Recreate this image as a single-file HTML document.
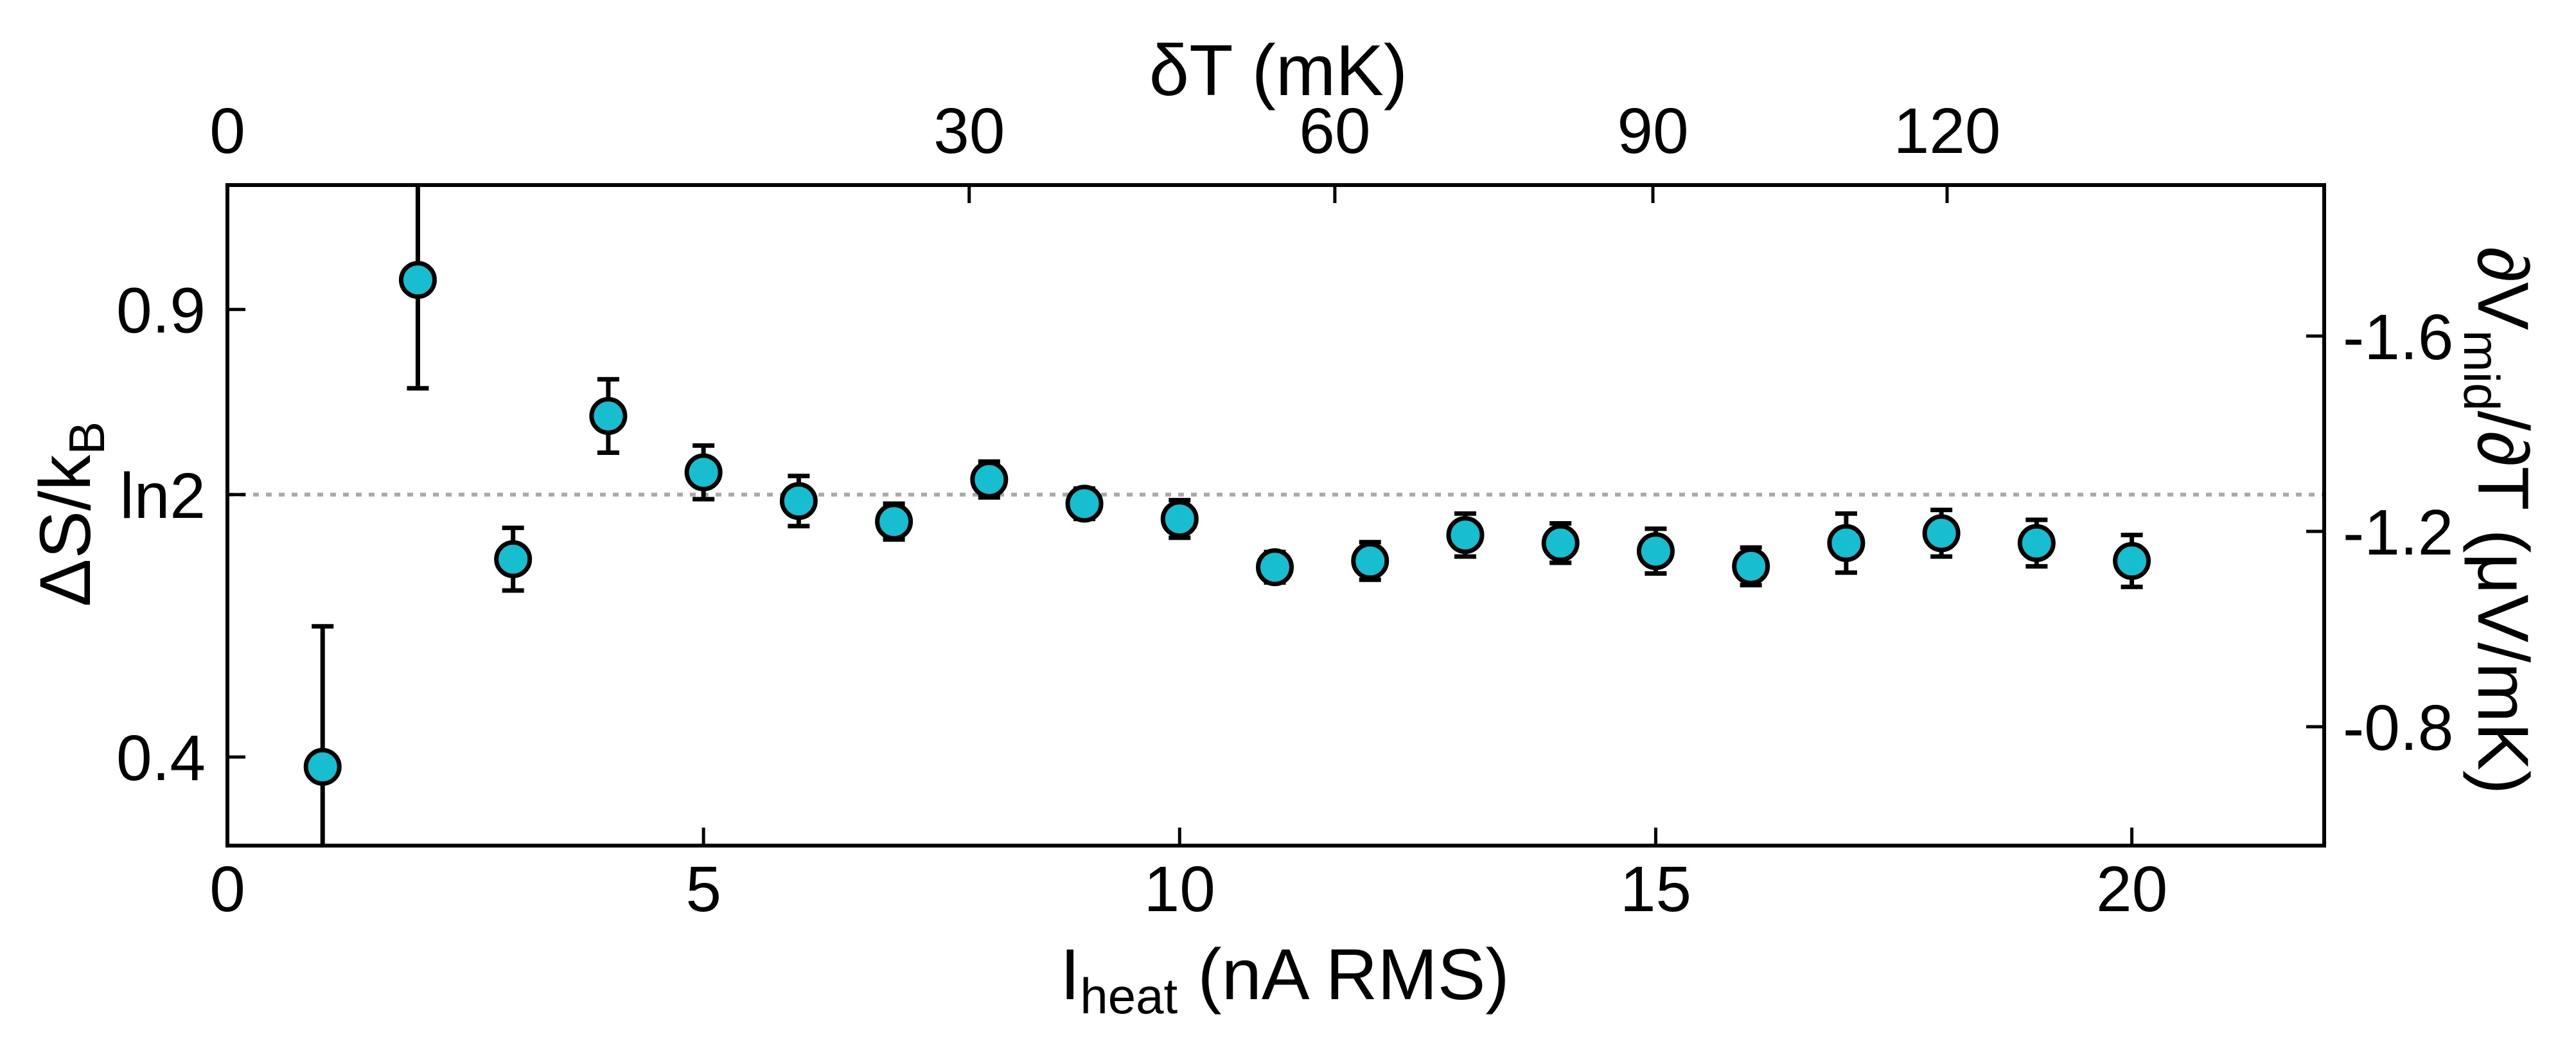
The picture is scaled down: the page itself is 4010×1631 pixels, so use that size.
<!DOCTYPE html>
<html><head><meta charset="utf-8"><style>
html,body{margin:0;padding:0;background:#fff}
svg{display:block;font-family:"Liberation Sans",Arial,sans-serif}
</style></head><body>
<svg id="chart" width="4010" height="1631" viewBox="0 0 4010 1631" xmlns="http://www.w3.org/2000/svg">
<g id="plot"></g>
</svg>
<script>
const currents = [1,2,3,4,5,6,7,8,9,10,11,12,13,14,15,16,17,18,19,20];
const entropy = [0.389,0.933,0.621,0.781,0.718,0.686,0.663,0.710,0.683,0.666,0.612,0.619,0.648,0.639,0.630,0.613,0.639,0.650,0.639,0.619];
const errors = [0.157,0.121,0.035,0.041,0.030,0.028,0.020,0.020,0.017,0.021,0.017,0.021,0.024,0.022,0.025,0.021,0.033,0.026,0.026,0.029];
const bottomTicks = [0,5,10,15,20];
const leftTicks = [0.9, Math.LN2, 0.4];
const leftTickLabels = ["0.9","ln2","0.4"];
const rightTicks = [-1.6,-1.2,-0.8];
const rightTickLabels = ["-1.6","-1.2","-0.8"];
const topTickLabels = ["0","30","60","90","120"];
const topTickCurrents = [0,7.79,11.63,14.97,18.06];

const L=354,R=3618,T=288,B=1316;
const xMin=0,xMax=22.02,yMin=0.301,yMax=1.039;
const x=v=>L+(v-xMin)/(xMax-xMin)*(R-L);
const y=v=>B-(v-yMin)/(yMax-yMin)*(B-T);
const yR=v=>827+(v+1.2)/0.4*(1131-827);
const NS="http://www.w3.org/2000/svg";
const g=document.getElementById('plot');
function mk(tag,attrs,parent){const e=document.createElementNS(NS,tag);for(const k in attrs)e.setAttribute(k,attrs[k]);(parent||g).appendChild(e);return e;}

const clip=mk('clipPath',{id:'clip'});mk('rect',{x:L,y:T,width:R-L,height:B-T},clip);

const ref=mk('line',{x1:L,x2:R,y1:y(Math.LN2),y2:y(Math.LN2),stroke:'#aaa','stroke-width':6,'stroke-dasharray':'9 11'});



const series=mk('g',{'clip-path':'url(#clip)'});


currents.forEach((c,i)=>{
  const cx=x(c),v=entropy[i],e=errors[i];
  const eb=mk('g',{stroke:'#000','stroke-width':7},series);
  
  
  mk('line',{x1:cx,x2:cx,y1:y(v-e),y2:y(v+e)},eb);
  mk('line',{x1:cx-17,x2:cx+17,y1:y(v-e),y2:y(v-e)},eb);
  mk('line',{x1:cx-17,x2:cx+17,y1:y(v+e),y2:y(v+e)},eb);
  const p=mk('circle',{cx:cx,cy:y(v),r:26,fill:'#17becf',stroke:'#000','stroke-width':7},series);
  
  
});

const frame=mk('rect',{x:L,y:T,width:R-L,height:B-T,fill:'none',stroke:'#000','stroke-width':6});



bottomTicks.forEach(t=>{
  const tk=mk('line',{x1:x(t),x2:x(t),y1:B,y2:B-28,stroke:'#000','stroke-width':5});
  
  
  const lb=mk('text',{x:x(t),y:1418,'font-size':100,'text-anchor':'middle'});lb.textContent=t;
  
  
});
topTickCurrents.forEach((c,i)=>{
  if(i>0){const tk=mk('line',{x1:x(c),x2:x(c),y1:T,y2:T+28,stroke:'#000','stroke-width':5});
  
  }
  const lb=mk('text',{x:x(c),y:238,'font-size':100,'text-anchor':'middle'});lb.textContent=topTickLabels[i];
  
  
});
leftTicks.forEach((t,i)=>{
  const tk=mk('line',{x1:L,x2:L+28,y1:y(t),y2:y(t),stroke:'#000','stroke-width':5});
  
  
  const lb=mk('text',{x:320,y:y(t)+36,'font-size':100,'text-anchor':'end'});lb.textContent=leftTickLabels[i];
  
  
});
rightTicks.forEach((t,i)=>{
  const tk=mk('line',{x1:R,x2:R-28,y1:yR(t),y2:yR(t),stroke:'#000','stroke-width':5});
  
  
  const lb=mk('text',{x:3647,y:yR(t)+36,'font-size':100});lb.textContent=rightTickLabels[i];
  
  
});

const xt=mk('text',{x:2000,y:1555,'font-size':112,'text-anchor':'middle'});
xt.innerHTML='I<tspan font-size="78" dy="22">heat</tspan><tspan dy="-22"> (nA RMS)</tspan>';


const tt=mk('text',{x:1990,y:148,'font-size':112,'text-anchor':'middle'});
tt.textContent='δT (mK)';


const yt=mk('text',{x:0,y:0,'font-size':112,'text-anchor':'middle',transform:'translate(140,800) rotate(-90)'});
yt.innerHTML='ΔS/k<tspan font-size="78" dy="22">B</tspan>';


const rt=mk('text',{x:0,y:0,'font-size':112,'text-anchor':'middle',transform:'translate(3858,810) rotate(90)'});
rt.innerHTML='∂V<tspan font-size="78" dy="22">mid</tspan><tspan dy="-22">/∂T (μV/mK)</tspan>';


</script>
</body></html>
